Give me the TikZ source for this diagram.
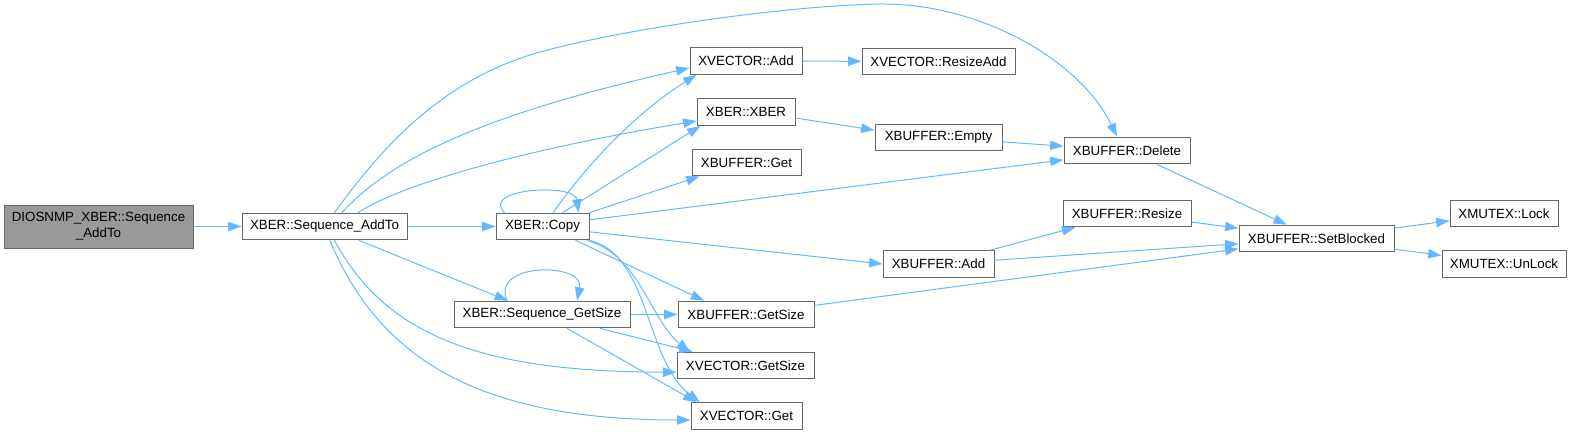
\documentclass[tikz,border=0pt]{standalone}
\usepackage{fontspec}
\setmainfont{Liberation Sans}
\usepackage{xcolor}
\usepackage{tikz}
\usetikzlibrary{arrows.meta}
\definecolor{edgeblue}{HTML}{63B8FF}
\definecolor{boxline}{HTML}{666666}
\definecolor{rootfill}{HTML}{999999}

\begin{document}
\begin{tikzpicture}[x=0.75pt, y=-0.75pt, font=\fontsize{10}{12}\selectfont,
  fn/.style={draw=boxline, fill=white, line width=0.75pt, minimum height=20pt, inner sep=0pt},
  call/.style={draw=edgeblue, line width=0.75pt, -{Triangle[length=10pt,width=7pt]}}]
  \useasboundingbox (0,0) rectangle (1571,435);
  % Functions (centres in pixels of the doxygen graph)
  \node[fn, fill=rootfill, minimum width=141.75pt, minimum height=32.25pt, align=center] (dio) at (98.5,226.5) {DIOSNMP\_XBER::Sequence\\\_AddTo};
  \node[fn, minimum width=123.75pt] (addto) at (324.5,226.5) {XBER::Sequence\_AddTo};
  \node[fn, minimum width=69.75pt] (copy) at (542.5,226.5) {XBER::Copy};
  \node[fn, minimum width=132pt] (seqgs) at (542,314.5) {XBER::Sequence\_GetSize};
  \node[fn, minimum width=84pt] (vadd) at (746,61) {XVECTOR::Add};
  \node[fn, minimum width=73.5pt] (xber) at (746,112) {XBER::XBER};
  \node[fn, minimum width=81.75pt] (bget) at (746.5,162.5) {XBUFFER::Get};
  \node[fn, minimum width=102pt] (bgs) at (746,314.5) {XBUFFER::GetSize};
  \node[fn, minimum width=102.75pt] (vgs) at (745.5,365.5) {XVECTOR::GetSize};
  \node[fn, minimum width=83.25pt] (vget) at (746.5,416) {XVECTOR::Get};
  \node[fn, minimum width=114.75pt] (resadd) at (938.5,61.5) {XVECTOR::ResizeAdd};
  \node[fn, minimum width=95.25pt] (empty) at (938.5,137.5) {XBUFFER::Empty};
  \node[fn, minimum width=83.25pt] (badd) at (938.5,264) {XBUFFER::Add};
  \node[fn, minimum width=94.5pt] (del) at (1127,150.5) {XBUFFER::Delete};
  \node[fn, minimum width=96pt] (resize) at (1127,213.5) {XBUFFER::Resize};
  \node[fn, minimum width=116.25pt] (setb) at (1316.5,238.5) {XBUFFER::SetBlocked};
  \node[fn, minimum width=81pt] (lock) at (1504,213.5) {XMUTEX::Lock};
  \node[fn, minimum width=93pt] (unlock) at (1504,264) {XMUTEX::UnLock};
  % Calls from the root
  \draw[call] (dio) -- (addto);
  % Calls from XBER::Sequence_AddTo
  \draw[call] (addto) -- (copy);
  \draw[call] (addto) -- (seqgs);
  \draw[call] ([xshift=7.5pt]addto.north) .. controls (380,150) and (440,80) .. (540,52)
    .. controls (620,30) and (780,6) .. (880,4) .. controls (980,3) and (1080,60) .. ([xshift=-7.5pt]del.north);
  \draw[call] ([xshift=13pt]addto.north) .. controls (390,160) and (480,115) .. ([yshift=-5.25pt]vadd.west);
  \draw[call] ([xshift=25pt]addto.north) .. controls (400,185) and (520,150) .. ([yshift=-6.75pt]xber.west);
  \draw[call] ([xshift=7.5pt]addto.south) .. controls (385,335) and (480,372) .. ([yshift=-5pt]vgs.west);
  \draw[call] ([xshift=4pt]addto.south) .. controls (380,360) and (480,420) .. ([yshift=-3pt]vget.west);
  % Calls from XBER::Copy
  \draw[call] ([xshift=6.75pt]copy.north west) .. controls (480,188) and (575,183) .. ([xshift=-8.25pt]copy.north east);
  \draw[call] ([xshift=8pt]copy.north) .. controls (590,160) and (640,110) .. ([xshift=5.25pt]vadd.south west);
  \draw[call] ([xshift=15pt]copy.north) -- ([xshift=3pt]xber.south west);
  \draw[call] (copy.north east) -- ([xshift=6pt]bget.south west);
  \draw[call] ([yshift=5pt]copy.east) -- ([yshift=-7pt]del.west);
  \draw[call] ([yshift=-4pt]copy.east) -- (badd.west);
  \draw[call] ([xshift=-10.5pt]copy.south east) -- ([xshift=20pt]bgs.north west);
  \draw[call] ([xshift=-2pt]copy.south east) .. controls (640,255) and (650,320) .. ([xshift=10pt]vgs.north west);
  \draw[call] (copy.south east) .. controls (650,255) and (645,360) .. ([xshift=7pt]vget.north west);
  % Calls from XBER::Sequence_GetSize
  \draw[call] ([xshift=-26.25pt]seqgs.north) .. controls (490,262) and (585,262) .. ([xshift=26.25pt]seqgs.north);
  \draw[call] (seqgs) -- (bgs);
  \draw[call] ([xshift=43.5pt]seqgs.south) -- ([xshift=12pt]vgs.north west);
  \draw[call] ([xshift=18.75pt]seqgs.south) -- ([xshift=4.5pt]vget.north west);
  % Deeper calls
  \draw[call] (vadd) -- (resadd);
  \draw[call] ([yshift=-4.5pt]xber.east) -- ([yshift=5.5pt]empty.west);
  \draw[call] (empty) -- (del);
  \draw[call] (del) -- (setb);
  \draw[call] (badd) -- (resize);
  \draw[call] (badd) -- (setb);
  \draw[call] (resize) -- (setb);
  \draw[call] (bgs) -- (setb);
  \draw[call] (setb) -- (lock);
  \draw[call] (setb) -- (unlock);
\end{tikzpicture}
\end{document}
